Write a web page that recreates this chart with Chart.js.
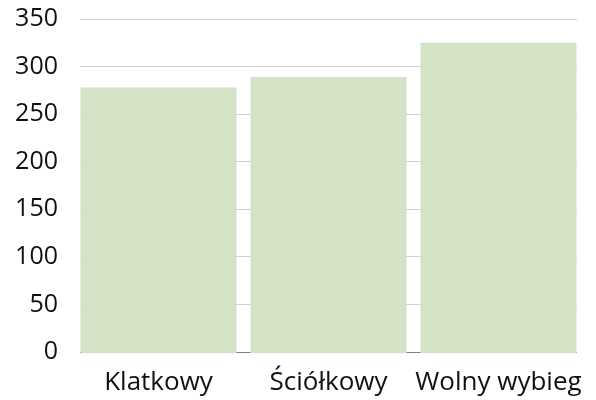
<!DOCTYPE html>
<html><head><meta charset="utf-8">
<script src="https://cdn.jsdelivr.net/npm/chart.js@4/dist/chart.umd.min.js"></script>
<style>html,body{margin:0;padding:0;background:#fff}#w{width:596px;height:400px}</style>
</head><body><div id="w"><canvas id="c" width="596" height="400"></canvas></div>
<script>
const categories = ["Klatkowy", "Ściółkowy", "Wolny wybieg"];
const values = [278, 289, 325];
const yTicks = [0, 50, 100, 150, 200, 250, 300, 350];

const fam = "'Open Sans', 'Noto Sans', sans-serif";
new Chart(document.getElementById('c'), {
  type: 'bar',
  data: {datasets: [{data: values.map((v, i) => ({x: i, y: v})), backgroundColor: '#d4e3c6',
                     barPercentage: 0.9176, categoryPercentage: 1, base: -1.2, clip: 3}]},
  options: {
    responsive: false, animation: false,
    layout: {padding: {top: 0, right: 19, left: 0, bottom: 0}},
    plugins: {legend: {display: false}, tooltip: {enabled: false}},
    scales: {
      x: {
        type: 'linear', min: -0.4618, max: 2.4618, offset: false,
        afterBuildTicks: s => { s.ticks = categories.map((c, i) => ({value: i})); },
        grid: {display: false},
        border: {display: false},
        ticks: {color: '#111', font: {family: fam, size: 26}, padding: 7, maxRotation: 0, autoSkip: false,
                callback: v => categories[v]},
        afterFit: s => { s.height = 48; }
      },
      y: {
        min: 0, max: 350,
        afterBuildTicks: s => { s.ticks = yTicks.map(v => ({value: v})); },
        grid: {color: c => (c.tick && c.tick.value === 0) ? '#808080' : '#d0d0d0', lineWidth: 1, drawTicks: false},
        border: {display: false},
        ticks: {color: '#111', font: {family: fam, size: 25}, padding: 22},
        afterFit: s => { s.width = 80; s.paddingTop = 19; s.paddingBottom = 0; }
      }
    }
  }
});
</script></body></html>
